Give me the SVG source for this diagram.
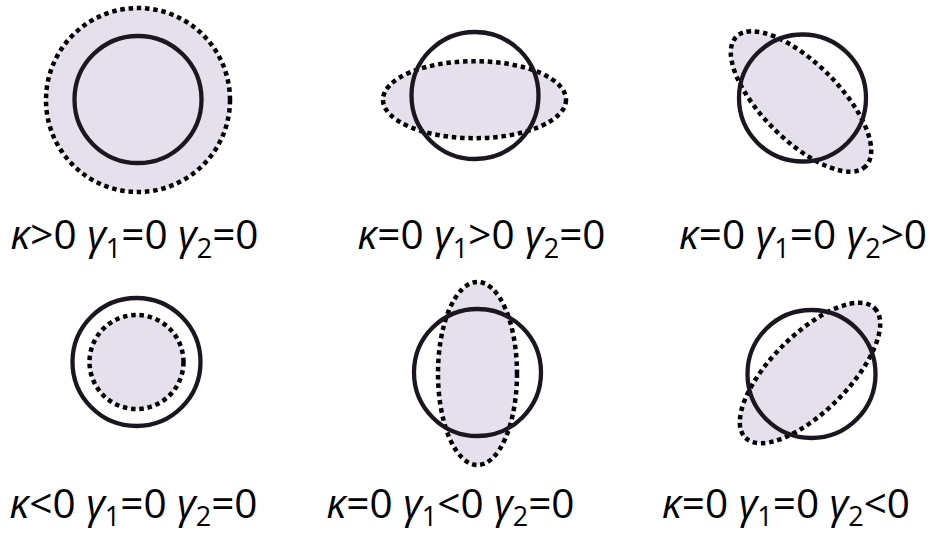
<svg xmlns="http://www.w3.org/2000/svg" width="929" height="535" viewBox="0 0 929 535">
<style>
.bg{fill:#ffffff}
.dot{fill:#E6E0EC;stroke:#000000;stroke-width:4.5;stroke-dasharray:4.5 3.8}
.sol{fill:none;stroke:#1c1620;stroke-width:4.3}
.lbl{font-family:"Open Sans","Liberation Sans",sans-serif;font-size:40.5px;fill:#000000;text-anchor:middle}
.g{font-style:italic}
.sub{font-size:27px}
</style>
<rect class="bg" x="0" y="0" width="929" height="535"/>
<g id="p1">
<circle class="dot" cx="138" cy="100" r="92"/>
<circle class="sol" cx="138" cy="99.5" r="63.5"/>
<text class="lbl" x="134.5" y="249"><tspan class="g">κ</tspan>&gt;0 <tspan class="g">γ</tspan><tspan class="sub" dy="9">1</tspan><tspan dy="-9">=0 </tspan><tspan class="g">γ</tspan><tspan class="sub" dy="9">2</tspan><tspan dy="-9">=0</tspan></text>
</g>
<g id="p2">
<ellipse class="dot" cx="474.5" cy="99.7" rx="91.5" ry="38.5"/>
<circle class="sol" cx="475" cy="95.5" r="63.5"/>
<text class="lbl" x="481.5" y="249"><tspan class="g">κ</tspan>=0 <tspan class="g">γ</tspan><tspan class="sub" dy="9">1</tspan><tspan dy="-9">&gt;0 </tspan><tspan class="g">γ</tspan><tspan class="sub" dy="9">2</tspan><tspan dy="-9">=0</tspan></text>
</g>
<g id="p3">
<ellipse class="dot" cx="0" cy="0" rx="91.5" ry="38.5" transform="translate(801 101.5) rotate(45)"/>
<circle class="sol" cx="802.5" cy="98" r="63.5"/>
<text class="lbl" x="803" y="249"><tspan class="g">κ</tspan>=0 <tspan class="g">γ</tspan><tspan class="sub" dy="9">1</tspan><tspan dy="-9">=0 </tspan><tspan class="g">γ</tspan><tspan class="sub" dy="9">2</tspan><tspan dy="-9">&gt;0</tspan></text>
</g>
<g id="p4">
<circle class="dot" cx="136.5" cy="362" r="47"/>
<circle class="sol" cx="136.5" cy="362" r="64"/>
<text class="lbl" x="133.5" y="518"><tspan class="g">κ</tspan>&lt;0 <tspan class="g">γ</tspan><tspan class="sub" dy="8">1</tspan><tspan dy="-8">=0 </tspan><tspan class="g">γ</tspan><tspan class="sub" dy="8">2</tspan><tspan dy="-8">=0</tspan></text>
</g>
<g id="p5">
<ellipse class="dot" cx="477.5" cy="373.5" rx="39.5" ry="91.5"/>
<circle class="sol" cx="477.5" cy="372.5" r="63.5"/>
<text class="lbl" x="450.5" y="518"><tspan class="g">κ</tspan>=0 <tspan class="g">γ</tspan><tspan class="sub" dy="8">1</tspan><tspan dy="-8">&lt;0 </tspan><tspan class="g">γ</tspan><tspan class="sub" dy="8">2</tspan><tspan dy="-8">=0</tspan></text>
</g>
<g id="p6">
<ellipse class="dot" cx="0" cy="0" rx="91.5" ry="38.5" transform="translate(810 373) rotate(-45)"/>
<circle class="sol" cx="811.5" cy="374" r="64"/>
<text class="lbl" x="786" y="518"><tspan class="g">κ</tspan>=0 <tspan class="g">γ</tspan><tspan class="sub" dy="8">1</tspan><tspan dy="-8">=0 </tspan><tspan class="g">γ</tspan><tspan class="sub" dy="8">2</tspan><tspan dy="-8">&lt;0</tspan></text>
</g>
<g id="connectors"/>
</svg>
